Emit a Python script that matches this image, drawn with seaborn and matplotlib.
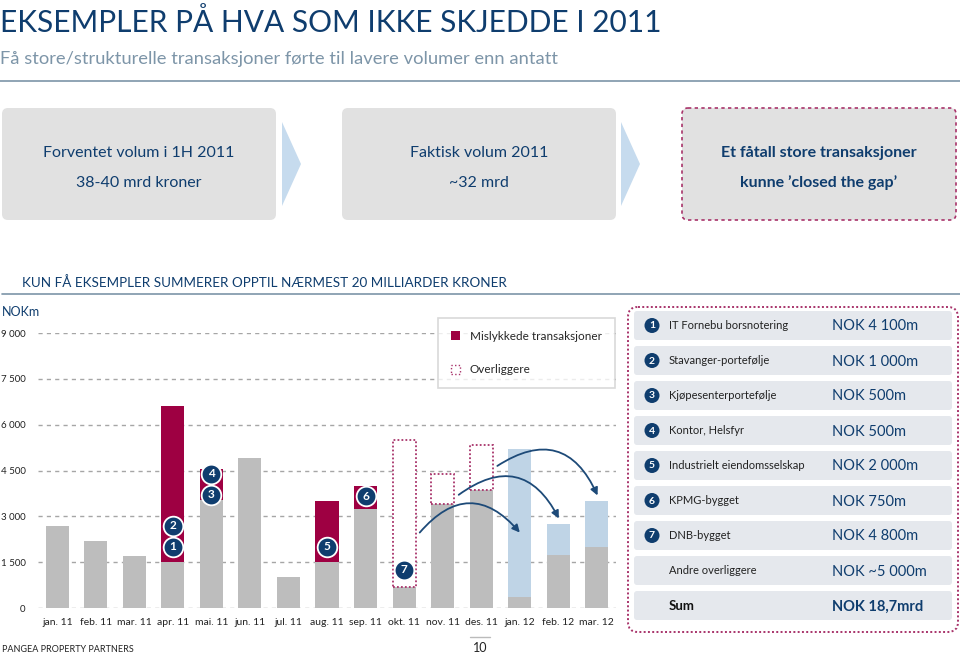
import numpy as np
import pandas as pd
import matplotlib
matplotlib.use("Agg")
import matplotlib.pyplot as plt
import seaborn as sns
from matplotlib.patches import FancyBboxPatch, Polygon, Patch, FancyArrowPatch, Circle

# data
months = ["jan. 11", "feb. 11", "mar. 11", "apr. 11", "mai. 11", "jun. 11", "jul. 11",
          "aug. 11", "sep. 11", "okt. 11", "nov. 11", "des. 11", "jan. 12", "feb. 12", "mar. 12"]
base = [2700, 2200, 1700, 1500, 3550, 4900, 1000, 1500, 3250, 700, 3400, 3850, 350, 1750, 2000]
mislykket = [0, 0, 0, 5100, 1000, 0, 0, 2000, 750, 0, 0, 0, 0, 0, 0]
overliggere = [0, 0, 0, 0, 0, 0, 0, 0, 0, 4800, 1000, 1500, 0, 0, 0]
forventet = [0, 0, 0, 0, 0, 0, 0, 0, 0, 0, 0, 0, 4850, 1000, 1500]

badge_month = ["apr. 11", "apr. 11", "mai. 11", "mai. 11", "aug. 11", "sep. 11", "okt. 11"]
badge_value = [2000, 2700, 3700, 4400, 2000, 3650, 1250]
badge_label = ["1", "2", "3", "4", "5", "6", "7"]

arrow_src = ["okt. 11", "nov. 11", "des. 11"]
arrow_dst = ["jan. 12", "feb. 12", "mar. 12"]
arrow_y_start = [2400, 3650, 4600]
arrow_y_end = [2400, 2850, 3600]

table_nr = ["1", "2", "3", "4", "5", "6", "7", "", ""]
table_names = ["IT Fornebu borsnotering", "Stavanger-portefølje", "Kjøpesenterportefølje",
               "Kontor, Helsfyr", "Industrielt eiendomsselskap", "KPMG-bygget", "DNB-bygget",
               "Andre overliggere", "Sum"]
table_values = ["NOK 4 100m", "NOK 1 000m", "NOK 500m", "NOK 500m", "NOK 2 000m",
                "NOK 750m", "NOK 4 800m", "NOK ~5 000m", "NOK 18,7mrd"]

yticks = [0, 1500, 3000, 4500, 6000, 7500, 9000]

# colours
NAVY = "#0f3d6e"
RED = "#9e0042"
DOT = "#a8336a"
GRAY = "#bdbdbd"
LBLUE = "#bfd4e6"
BOXGRAY = "#e1e1e1"
ROWC = "#e5e8ed"

sns.set_style("white")
plt.rcParams["font.family"] = ["Lato", "DejaVu Sans"]

df = pd.DataFrame({"måned": months, "base": base, "mislykket": mislykket,
                   "overliggere": overliggere, "forventet": forventet})
df["mislykket_topp"] = df["base"] + df["mislykket"]
df["forventet_topp"] = df["base"] + df["forventet"]

fig = plt.figure(figsize=(9.6, 6.55), dpi=100)

# background axes in pixel coordinates
bg = fig.add_axes([0, 0, 1, 1])
bg.set_xlim(0, 960)
bg.set_ylim(655, 0)
bg.axis("off")

bg.text(0, 22, "EKSEMPLER PÅ HVA SOM IKKE SKJEDDE I 2011", fontsize=21.5, color=NAVY,
        va="center", ha="left")
bg.text(0, 59, "Få store/strukturelle transaksjoner førte til lavere volumer enn antatt",
        fontsize=13.2, color="#7d95a8", va="center", ha="left")
bg.plot([0, 960], [81, 81], color="#7d95a8", lw=1.2)

# top boxes
boxes = [(0, "Forventet volum i 1H 2011", "38-40 mrd kroner", "normal"),
         (340, "Faktisk volum 2011", "~32 mrd", "normal"),
         (680, "Et fåtall store transaksjoner", "kunne \u2019closed the gap\u2019", "bold")]
for x0, l1, l2, w in boxes:
    dashed = w == "bold"
    bg.add_patch(FancyBboxPatch((x0 + 2, 108), 274, 112, boxstyle="round,pad=0,rounding_size=6",
                                facecolor=BOXGRAY, edgecolor=DOT if dashed else "none",
                                linestyle=(0, (2, 2)) if dashed else "-", lw=1.2))
    bg.text(x0 + 139, 153, l1, fontsize=11.5, color=NAVY, ha="center", va="center", fontweight=w)
    bg.text(x0 + 139, 183, l2, fontsize=11.5, color=NAVY, ha="center", va="center", fontweight=w)
for cx in [282, 621]:
    bg.add_patch(Polygon([(cx, 122), (cx + 19, 164), (cx, 206)], closed=True,
                         facecolor="#c6dbee", edgecolor="none"))

bg.text(22, 283, "KUN FÅ EKSEMPLER SUMMERER OPPTIL NÆRMEST 20 MILLIARDER KRONER",
        fontsize=9.7, color=NAVY, va="center", ha="left")
bg.plot([2, 960], [294, 294], color="#7d95a8", lw=1.2)
bg.text(2, 312, "NOKm", fontsize=9, color=NAVY, va="center", ha="left")

# table
bg.add_patch(FancyBboxPatch((628, 307), 330, 325, boxstyle="round,pad=0,rounding_size=10",
                            facecolor="none", edgecolor=DOT, linestyle=(0, (1, 1.2)), lw=1.4))
for i, (nr, name, val) in enumerate(zip(table_nr, table_names, table_values)):
    y0 = 311 + i * 35
    bg.add_patch(FancyBboxPatch((634, y0), 318, 29, boxstyle="round,pad=0,rounding_size=3",
                                facecolor=ROWC, edgecolor="none"))
    yc = y0 + 14.5
    bold = name == "Sum"
    if nr:
        bg.add_patch(Circle((652, yc), 7.5, facecolor=NAVY, edgecolor="none"))
        bg.text(652, yc + 0.5, nr, color="white", fontsize=7.5, fontweight="bold",
                ha="center", va="center")
    bg.text(669, yc, name, fontsize=9.5 if bold else 8, color="#222222" if not bold else "#111111",
            fontweight="bold" if bold else "normal", ha="left", va="center")
    bg.text(832, yc + 1, val, fontsize=10.5, color=NAVY, fontweight="bold" if bold else "normal",
            ha="left", va="center")

# footer
bg.text(2, 649, "PANGEA PROPERTY PARTNERS", fontsize=6.5, color="#222222", va="center")
bg.plot([470, 490], [637, 637], color="#bbbbbb", lw=1)
bg.text(480, 648, "10", fontsize=9, color="#222222", ha="center", va="center")

# chart
ax = fig.add_axes([38 / 960, 47 / 655, 578 / 960, 275 / 655])
ax.set_facecolor("none")
kw = dict(width=0.6, saturation=1, errorbar=None, linewidth=0, ax=ax)
sns.barplot(data=df, x="måned", y="mislykket_topp", color=RED, **kw)
sns.barplot(data=df, x="måned", y="forventet_topp", color=LBLUE, **kw)
sns.barplot(data=df, x="måned", y="base", color=GRAY, **kw)

pos = {m: i for i, m in enumerate(months)}
over = df[df["overliggere"] > 0]
ax.bar([pos[m] for m in over["måned"]], over["overliggere"], bottom=over["base"], width=0.6,
       facecolor="white", edgecolor=DOT, linestyle=(0, (1, 1.2)), lw=1.3, zorder=3)

ax.scatter([pos[m] for m in badge_month], badge_value, s=200, color=NAVY,
           edgecolor="white", linewidth=1.3, zorder=5)
for m, v, t in zip(badge_month, badge_value, badge_label):
    ax.text(pos[m], v, t, color="white", fontsize=8.5, fontweight="bold",
            ha="center", va="center", zorder=6)

for s, d, y1, y2 in zip(arrow_src, arrow_dst, arrow_y_start, arrow_y_end):
    ax.add_patch(FancyArrowPatch((pos[s] + 0.36, y1), (pos[d] + 0.05, y2),
                                 connectionstyle="arc3,rad=-0.6", arrowstyle="-|>",
                                 mutation_scale=11, color="#1d4a78", lw=1.3, zorder=6))

ax.set_xlim(-0.5, len(months) - 0.5)
ax.set_ylim(0, 9000)
ax.set_yticks(yticks)
ax.set_yticklabels([f"{v:,}".replace(",", " ") for v in yticks], fontsize=7, color="#222222")
ax.tick_params(axis="both", length=0)
ax.tick_params(axis="y", pad=9)
ax.tick_params(axis="x", pad=7, labelsize=7.5, labelcolor="#222222")
ax.set_xlabel("")
ax.set_ylabel("")
ax.yaxis.grid(True, linestyle=(0, (3, 3)), color="#a6a6a6", lw=1)
ax.set_axisbelow(True)
sns.despine(ax=ax, left=True, bottom=True)

handles = [Patch(facecolor=RED, edgecolor="none", label="Mislykkede transaksjoner"),
           Patch(facecolor="white", edgecolor=DOT, linestyle=":", label="Overliggere")]
leg = ax.legend(handles=handles, loc="upper right", bbox_to_anchor=(0.998, 1.055),
                fontsize=8.5, frameon=True, fancybox=False, edgecolor="#d0d0d0",
                handlelength=0.8, handleheight=0.8, handletextpad=0.8,
                labelspacing=1.9, borderpad=1.1, borderaxespad=0)
leg.get_frame().set_linewidth(1.2)

fig.savefig("out.png", dpi=100)
